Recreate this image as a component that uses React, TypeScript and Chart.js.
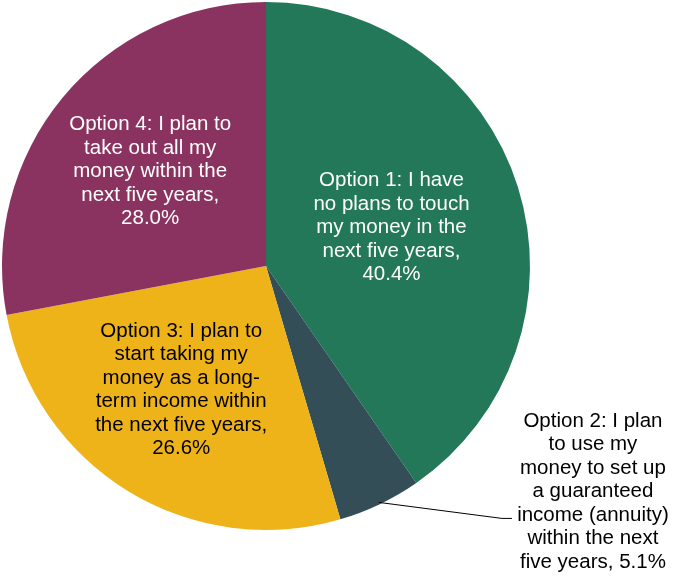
import React, { useRef, useEffect } from 'react';
import { Chart, registerables, ArcElement } from 'chart.js';

Chart.register(...registerables);

const categories = ['Option 1', 'Option 2', 'Option 3', 'Option 4'];
const shares = [40.4, 5.1, 26.6, 28.0];
const sliceColors = ['#23785A', '#334E56', '#EFB31A', '#8B3360'];
const labelLines = [
  ['Option 1: I have', 'no plans to touch', 'my money in the', 'next five years,', '40.4%'],
  ['Option 2: I plan', 'to use my', 'money to set up', 'a guaranteed', 'income (annuity)', 'within the next', 'five years, 5.1%'],
  ['Option 3: I plan to', 'start taking my', 'money as a long-', 'term income within', 'the next five years,', '26.6%'],
  ['Option 4: I plan to', 'take out all my', 'money within the', 'next five years,', '28.0%'],
];
const labelColors = ['#ffffff', '#000000', '#000000', '#ffffff'];
// how far along the radius each inside label sits (null = outside with leader)
const labelRadius = [0.49, null, 0.55, 0.56];
const labelShiftX = [2, 0, -9, -2];

const FONT = '20.5px Arial, "Liberation Sans", sans-serif';
const LINE_H = 23.5;

const labelPlugin = {
  id: 'sliceLabels',
  afterDatasetsDraw(chart: Chart) {
    const ctx = chart.ctx;
    const meta = chart.getDatasetMeta(0);
    ctx.save();
    ctx.font = FONT;
    ctx.textAlign = 'center';
    ctx.textBaseline = 'middle';
    meta.data.forEach((el, i) => {
      const arc = el as ArcElement;
      const { x, y, startAngle, endAngle, outerRadius } = arc.getProps(
        ['x', 'y', 'startAngle', 'endAngle', 'outerRadius'],
        true
      ) as any;
      const mid = (startAngle + endAngle) / 2;
      const lines = labelLines[i];
      const frac = labelRadius[i];
      ctx.fillStyle = labelColors[i];
      if (frac !== null) {
        const cx = x + Math.cos(mid) * outerRadius * frac + labelShiftX[i];
        const cy = y + Math.sin(mid) * outerRadius * frac;
        lines.forEach((l, k) => {
          ctx.fillText(l, cx, cy + (k - (lines.length - 1) / 2) * LINE_H);
        });
      } else {
        const ex = x + Math.cos(mid) * (outerRadius - 2);
        const ey = y + Math.sin(mid) * (outerRadius - 2);
        const bx = ex + 123;
        const by = ey + 16;
        ctx.strokeStyle = '#000000';
        ctx.lineWidth = 1;
        ctx.beginPath();
        ctx.moveTo(ex, ey);
        ctx.lineTo(bx, by);
        ctx.lineTo(bx + 10, by);
        ctx.stroke();
        const tx = bx + 91;
        const ty = by - 27;
        lines.forEach((l, k) => {
          ctx.fillText(l, tx, ty + (k - (lines.length - 1) / 2) * LINE_H);
        });
      }
    });
    ctx.restore();
  },
};

const App: React.FC = () => {
  const canvasRef = useRef<HTMLCanvasElement>(null);
  const chartRef = useRef<Chart | null>(null);

  useEffect(() => {
    if (!canvasRef.current) return;
    if (chartRef.current) chartRef.current.destroy();

    chartRef.current = new Chart(canvasRef.current, {
      type: 'pie',
      data: {
        labels: categories,
        datasets: [
          {
            data: shares,
            backgroundColor: sliceColors,
            borderWidth: 0,
          },
        ],
      },
      options: {
        responsive: false,
        animation: false,
        layout: { padding: { left: 2, top: 2, right: 145, bottom: 47 } },
        plugins: {
          legend: { display: false },
          tooltip: { enabled: false },
        },
      },
      plugins: [labelPlugin],
    });

    return () => {
      if (chartRef.current) {
        chartRef.current.destroy();
        chartRef.current = null;
      }
    };
  }, []);

  return (
    <div style={{ position: 'absolute', left: 0, top: 0, width: 675, height: 577, background: '#fff' }}>
      <canvas ref={canvasRef} width={675} height={577} />
    </div>
  );
};

export default App;
